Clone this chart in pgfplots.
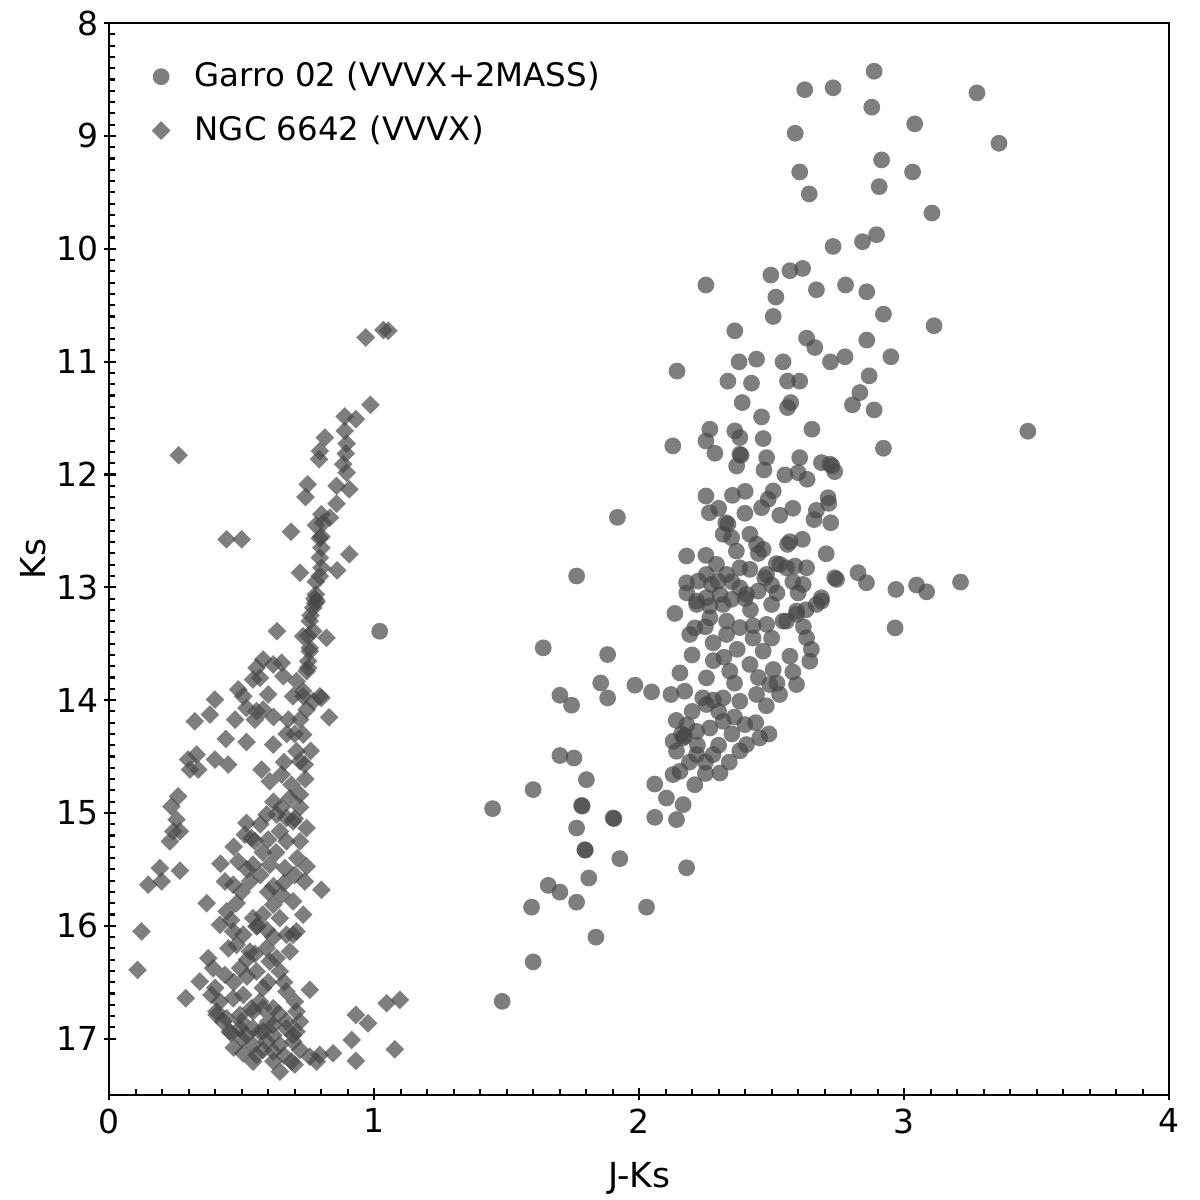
\documentclass[border=0pt]{standalone}
\usepackage{pgfplots}
\usepackage{pgfplotstable}
\usepackage{fontspec}
\setmainfont{DejaVu Sans}
\pgfplotsset{compat=1.18}
\pgfplotstableread{
x y
2.887 8.426
2.625 8.590
2.732 8.573
3.275 8.618
2.878 8.745
3.040 8.893
2.589 8.976
3.358 9.065
2.915 9.212
2.606 9.319
3.032 9.319
2.906 9.449
2.642 9.514
3.105 9.683
2.896 9.875
2.843 9.937
2.732 9.979
2.617 10.174
2.569 10.194
2.497 10.233
2.252 10.321
2.779 10.321
2.669 10.363
2.859 10.381
2.516 10.428
2.506 10.600
2.922 10.579
3.113 10.682
2.361 10.727
2.632 10.792
2.663 10.875
2.859 10.809
2.950 10.957
2.777 10.957
2.722 11.002
2.377 11.002
2.443 10.978
2.543 11.002
2.143 11.084
2.335 11.173
2.424 11.191
2.560 11.173
2.606 11.173
2.868 11.126
2.833 11.274
2.805 11.383
2.887 11.428
2.389 11.363
2.572 11.363
2.560 11.407
2.462 11.490
2.652 11.599
3.467 11.617
2.127 11.747
2.267 11.599
2.252 11.703
2.361 11.614
2.380 11.673
2.468 11.682
2.922 11.768
2.286 11.812
2.380 11.821
2.385 11.830
2.368 11.925
2.481 11.851
2.471 11.960
2.606 11.851
2.550 12.004
2.600 11.984
2.634 12.043
2.688 11.895
2.720 11.909
2.728 11.925
2.738 11.975
2.506 12.146
2.252 12.191
2.352 12.185
2.713 12.206
2.669 12.318
2.716 12.256
2.723 12.428
2.569 12.596
2.616 12.575
2.706 12.703
2.443 12.619
2.468 12.664
2.531 12.797
2.588 12.812
2.632 12.827
2.738 12.916
2.745 12.930
2.826 12.871
2.858 12.960
2.969 13.019
3.047 12.980
3.085 13.040
3.213 12.954
2.619 12.975
2.688 13.093
2.474 12.916
2.966 13.360
2.265 12.339
2.399 12.344
2.487 12.220
2.462 12.295
2.531 12.362
2.327 12.428
2.335 12.440
2.317 12.530
2.349 12.561
2.367 12.679
2.418 12.530
2.179 12.723
2.252 12.717
2.292 12.797
2.254 12.886
2.179 12.960
2.223 12.945
2.273 12.974
2.298 12.945
2.330 12.886
2.380 12.827
2.418 12.841
2.481 12.886
2.518 12.791
2.556 12.827
2.688 13.122
2.405 13.063
2.380 13.004
2.449 13.034
2.217 13.122
2.254 13.093
2.305 13.063
2.349 13.107
2.135 13.232
2.500 13.152
2.556 13.300
2.594 13.211
2.267 13.270
2.330 13.300
2.430 13.340
2.210 13.360
1.984 13.868
2.047 13.927
2.217 13.152
2.267 13.166
2.317 13.152
2.191 13.418
2.279 13.492
2.330 13.418
2.380 13.357
2.481 13.329
2.543 13.300
2.594 13.240
2.632 13.448
2.669 13.152
2.154 13.759
2.254 13.803
2.342 13.744
2.418 13.684
2.468 13.566
2.506 13.729
2.569 13.611
2.644 13.655
2.594 13.862
2.172 13.921
2.254 14.039
2.317 13.981
2.380 14.010
2.443 13.950
2.493 13.862
2.166 14.335
2.172 14.320
2.160 14.300
2.128 14.365
2.217 14.277
2.267 14.247
2.317 14.188
2.399 14.217
2.455 14.335
2.405 14.394
2.279 14.483
2.217 14.483
2.141 14.453
2.128 14.660
2.305 14.646
2.059 14.744
2.154 14.631
2.103 14.868
2.166 14.926
2.141 15.059
2.059 15.039
2.200 14.100
2.300 14.100
2.350 14.300
2.220 14.400
2.300 14.400
2.380 14.450
2.440 14.200
2.480 14.050
2.530 13.950
2.450 13.800
2.360 13.850
2.280 13.650
2.200 13.600
2.370 13.550
2.500 13.450
2.420 13.200
2.520 13.050
2.600 13.050
2.620 13.350
2.650 13.550
2.350 12.950
2.450 12.700
2.560 12.620
2.400 12.150
2.300 12.300
2.580 12.300
2.660 12.400
2.180 13.050
2.120 13.950
2.240 13.980
2.190 14.550
2.250 14.650
2.340 14.550
2.140 14.180
2.490 14.300
2.580 13.750
2.280 14.000
2.360 14.150
2.180 14.220
2.250 14.550
2.210 14.750
2.430 13.450
2.320 13.620
2.520 13.850
2.400 13.100
2.500 12.980
2.580 12.950
2.250 13.350
2.630 13.200
1.764 12.900
1.638 13.537
1.881 13.596
1.855 13.848
1.881 13.981
1.701 13.957
1.745 14.045
1.701 14.491
1.754 14.513
1.801 14.705
1.600 14.793
1.447 14.962
1.783 14.933
1.785 14.940
1.902 15.045
1.905 15.050
1.764 15.134
1.795 15.326
1.797 15.330
1.927 15.405
1.810 15.577
1.657 15.642
1.701 15.702
1.764 15.791
1.594 15.835
2.028 15.835
1.837 16.101
1.600 16.320
1.483 16.670
2.179 15.486
1.918 12.380
1.021 13.390
}\garro
\pgfplotstableread{
x y
1.035 10.720
1.053 10.726
0.968 10.786
0.986 11.383
0.889 11.487
0.931 11.510
0.889 11.614
0.896 11.727
0.893 11.815
0.883 11.909
0.896 11.984
0.814 11.673
0.795 11.792
0.792 11.865
0.262 11.830
0.749 12.087
0.741 12.200
0.858 12.102
0.906 12.131
0.858 12.259
0.801 12.353
0.833 12.383
0.808 12.428
0.780 12.450
0.800 12.550
0.686 12.508
0.443 12.575
0.500 12.575
0.795 12.566
0.801 12.650
0.906 12.708
0.795 12.738
0.801 12.827
0.795 12.901
0.780 12.950
0.720 12.871
0.860 12.850
0.780 13.063
0.783 13.122
0.770 13.182
0.775 13.100
0.778 13.140
0.760 13.250
0.633 13.389
0.757 13.300
0.770 13.389
0.732 13.434
0.820 13.448
0.757 13.537
0.751 13.655
0.745 13.744
0.581 13.640
0.556 13.714
0.569 13.803
0.651 13.670
0.657 13.788
0.619 13.684
0.543 13.818
0.707 13.832
0.732 13.921
0.795 13.966
0.487 13.906
0.399 13.995
0.506 13.966
0.751 13.430
0.757 13.567
0.751 13.714
0.732 13.966
0.694 13.966
0.770 14.010
0.801 13.981
0.745 14.084
0.518 14.069
0.556 14.099
0.581 14.084
0.380 14.128
0.323 14.188
0.475 14.173
0.550 14.173
0.830 14.152
0.676 14.172
0.720 14.172
0.732 14.305
0.700 14.300
0.760 14.450
0.740 14.700
0.720 14.950
0.700 15.050
0.440 14.344
0.518 14.371
0.619 14.394
0.707 14.453
0.720 14.542
0.738 14.571
0.660 14.550
0.620 14.900
0.298 14.527
0.330 14.483
0.305 14.616
0.336 14.616
0.399 14.527
0.449 14.571
0.575 14.616
0.606 14.720
0.651 14.660
0.688 14.749
0.682 14.868
0.720 14.837
0.260 14.853
0.235 14.942
0.254 15.059
0.242 15.163
0.267 15.163
0.229 15.252
0.594 15.015
0.632 15.015
0.669 15.045
0.518 15.089
0.512 15.193
0.537 15.223
0.600 15.237
0.644 15.163
0.694 15.075
0.745 15.134
0.669 15.252
0.720 15.252
0.550 15.250
0.630 15.350
0.487 15.429
0.543 15.459
0.606 15.459
0.663 15.489
0.745 15.474
0.738 15.607
0.801 15.681
0.570 15.550
0.620 15.650
0.700 15.550
0.500 15.700
0.191 15.489
0.147 15.636
0.198 15.607
0.267 15.512
0.437 15.607
0.468 15.636
0.531 15.607
0.368 15.800
0.443 15.873
0.481 15.800
0.543 15.933
0.619 15.814
0.651 15.725
0.694 15.784
0.732 15.902
0.644 15.933
0.580 15.900
0.418 15.991
0.468 16.050
0.506 16.080
0.556 16.006
0.594 16.036
0.669 16.080
0.707 16.050
0.122 16.050
0.481 16.169
0.531 16.228
0.594 16.198
0.632 16.287
0.682 16.228
0.694 16.080
0.520 16.300
0.374 16.287
0.392 16.376
0.342 16.494
0.437 16.435
0.494 16.376
0.556 16.405
0.606 16.317
0.644 16.405
0.470 16.500
0.600 16.500
0.660 16.500
0.520 16.450
0.107 16.391
0.386 16.613
0.418 16.672
0.405 16.790
0.468 16.643
0.506 16.613
0.537 16.731
0.569 16.672
0.619 16.731
0.669 16.583
0.701 16.672
0.757 16.568
0.707 16.760
0.289 16.642
0.430 16.849
0.455 16.938
0.494 16.908
0.543 16.908
0.581 16.938
0.619 16.879
0.669 16.849
0.707 16.938
0.460 16.950
0.600 16.850
0.506 17.130
0.556 17.145
0.619 17.115
0.644 17.293
0.688 17.204
0.757 17.160
0.783 17.204
0.845 17.130
0.543 17.056
0.594 17.027
0.644 17.056
0.694 17.027
0.720 17.100
0.660 17.150
0.580 17.100
0.500 17.000
0.931 16.790
0.977 16.864
0.915 17.012
0.931 17.198
1.047 16.687
1.097 16.657
1.078 17.095
0.543 17.204
0.795 17.145
0.405 16.760
0.443 16.820
0.494 16.790
0.543 16.760
0.581 16.730
0.518 16.970
0.569 16.940
0.619 16.970
0.669 16.910
0.694 16.970
0.450 16.200
0.550 16.250
0.620 16.100
0.400 16.550
0.580 16.550
0.500 16.850
0.640 16.780
0.720 16.850
0.470 17.080
0.620 17.200
0.700 17.230
0.560 16.000
0.460 15.950
0.600 15.700
0.520 15.500
0.580 15.350
0.660 15.620
0.710 15.400
0.650 14.950
0.570 15.100
0.470 15.300
0.420 15.450
0.670 14.300
0.620 14.150
0.600 13.950
}\ngc
\begin{document}
\begin{tikzpicture}
\begin{axis}[
  scale only axis,
  width=353.3pt, height=357.3pt,
  xmin=0, xmax=4, ymin=8, ymax=17.5,
  y dir=reverse,
  xtick={0,1,2,3,4}, ytick={8,9,...,17},
  minor x tick num=9, minor y tick num=9,
  xtick pos=left, ytick pos=left,
  tick align=inside,
  major tick length=4pt, minor tick length=2pt,
  every major x tick/.append style={yshift=-1.6pt},
  every major y tick/.append style={xshift=-1.6pt},
  axis line style={line width=0.7pt},
  every tick/.style={black, line width=0.7pt},
  /pgf/number format/assume math mode=true,
  ticklabel style={font=\fontsize{11}{13}\selectfont},
  xticklabel style={yshift=-1pt},
  label style={font=\fontsize{11.5}{13}\selectfont},
  xlabel={J-Ks}, ylabel={Ks},
  xlabel style={at={(axis description cs:0.5,-0.078)}, anchor=center},
  ylabel style={at={(axis description cs:-0.0717,0.5)}, anchor=center},
  legend style={draw=none, fill=none, at={(0,1)}, anchor=north west,
    xshift=11pt, yshift=-8.8pt, font=\fontsize{10.8}{12}\selectfont, row sep=4.3pt},
  legend cell align=left,
  legend image code/.code={%
    \draw[mark repeat=2,mark phase=2,#1] plot coordinates {(0cm,0cm) (0.3cm,0cm) (0.6cm,0cm)};
    \path (0.3cm,0pt) ++(9pt,0pt);},
]
\addplot[only marks, mark=*, mark size=2.8pt,
  mark options={draw=black!72, fill=black!72, fill opacity=0.7, draw opacity=0}] table[x=x,y=y] {\garro};
\addlegendentry{Garro 02 (VVVX+2MASS)}
\addplot[only marks, mark=square*, mark size=2.2pt,
  mark options={draw=black!72, fill=black!72, fill opacity=0.7, draw opacity=0, rotate=45}] table[x=x,y=y] {\ngc};
\addlegendentry{NGC 6642 (VVVX)}
\end{axis}
\pgfresetboundingbox
\path[use as bounding box] (-36.4pt,-35pt) rectangle (363.6pt,365pt);
\end{tikzpicture}
\end{document}
